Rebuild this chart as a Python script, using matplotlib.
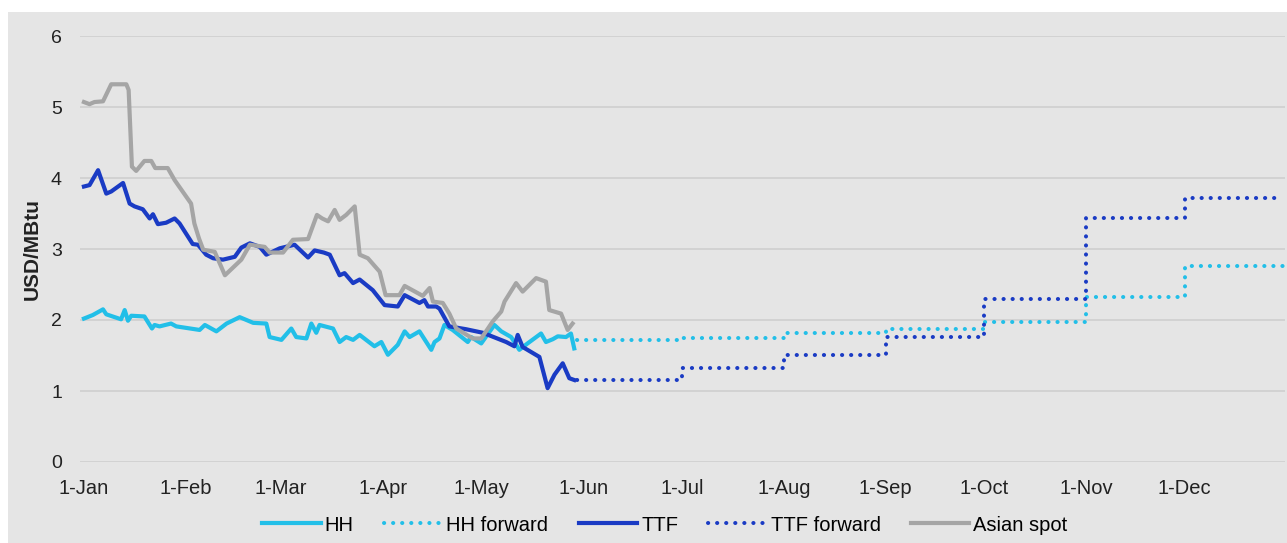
import numpy as np
import pandas as pd
import matplotlib
matplotlib.use('Agg')
import matplotlib.pyplot as plt
from matplotlib.patches import Rectangle

plt.rcParams['font.family'] = ['Liberation Sans', 'DejaVu Sans']

# Данные: день года (0 = 1 января 2020) и цена, USD/MBtu
hh_day = [0, 2.7, 5.8, 6.8, 11.3, 12.4, 13.4, 14.4, 18.4, 20.7, 21.5, 23, 26.5, 28.1,
          35.2, 36.8, 40.3, 43.4, 47.4, 51.5, 55.5, 56.5, 60.1, 63.1, 64.6, 67.7,
          69.2, 70.7, 71.7, 75.8, 77.8, 79.8, 81.9, 83.9, 88.4, 90.5, 92.5, 95.5,
          97.6, 99.1, 102.1, 105.7, 106.7, 108.2, 109.7, 112.2, 116.8, 117.8, 120.9,
          124.9, 127, 130, 132.5, 135, 139.1, 140.6, 142.7, 144.2, 146.7, 148.2, 149.2]
hh_val = [2.02, 2.07, 2.15, 2.08, 2.01, 2.14, 1.99, 2.06, 2.05, 1.88, 1.93, 1.91, 1.95, 1.91,
          1.86, 1.93, 1.84, 1.95, 2.04, 1.96, 1.95, 1.76, 1.72, 1.88, 1.76, 1.74,
          1.95, 1.82, 1.93, 1.88, 1.69, 1.76, 1.72, 1.79, 1.63, 1.69, 1.51, 1.65,
          1.84, 1.76, 1.84, 1.58, 1.69, 1.74, 1.93, 1.86, 1.69, 1.76, 1.67,
          1.93, 1.84, 1.76, 1.58, 1.67, 1.81, 1.69, 1.73, 1.77, 1.76, 1.81, 1.60]

ttf_day = [0, 1.7, 4.3, 6.8, 8.3, 11.9, 13.9, 15.4, 17.9, 20, 21, 22.5, 25, 27.6, 29.1,
           33.1, 34.7, 37.2, 39.3, 42.3, 45.9, 47.9, 50.5, 53.5, 55.5, 59.6, 64.1,
           68.2, 70.2, 73, 74.8, 77.8, 79.3, 81.9, 83.9, 87.9, 91.5, 95.5, 97.6,
           102.1, 103.6, 104.7, 107.2, 108.2, 111.2, 116.3, 121.4, 128.5, 131, 132,
           133.5, 138.6, 141.1, 143.2, 145.7, 147.7, 149.2]
ttf_val = [3.88, 3.90, 4.11, 3.78, 3.81, 3.93, 3.64, 3.60, 3.56, 3.43, 3.49, 3.35, 3.37, 3.43, 3.36,
           3.07, 3.06, 2.92, 2.87, 2.85, 2.89, 3.02, 3.08, 3.03, 2.92, 3.01, 3.06,
           2.88, 2.98, 2.95, 2.92, 2.63, 2.66, 2.52, 2.57, 2.42, 2.21, 2.19, 2.35,
           2.24, 2.28, 2.19, 2.19, 2.16, 1.91, 1.87, 1.82, 1.69, 1.63, 1.79,
           1.62, 1.48, 1.04, 1.23, 1.39, 1.18, 1.155]

asia_day = [0, 1.7, 3.2, 5.8, 8.3, 12.9, 13.6, 14.6, 15.9, 18.4, 20.5, 21.7, 25.5, 27.6,
            32.6, 33.6, 35.0, 36.3, 39.8, 42.9, 47.9, 50.5, 55, 56.5, 60.6, 63.6, 68.2,
            70.9, 72.5, 74.3, 76.3, 77.8, 79.8, 82.4, 83.9, 86.4, 90, 91.8, 96, 97.6,
            103.1, 105.2, 106.2, 109.2, 111.2, 113.3, 118.3, 120.9, 124.4, 127, 128,
            131.5, 133.5, 137.6, 140.6, 141.6, 145.2, 147.2, 148.7]
asia_val = [5.07, 5.04, 5.07, 5.08, 5.32, 5.32, 5.24, 4.16, 4.10, 4.24, 4.24, 4.14, 4.14, 3.97,
            3.64, 3.36, 3.15, 2.99, 2.96, 2.63, 2.85, 3.06, 3.03, 2.95, 2.95, 3.13, 3.14,
            3.48, 3.43, 3.39, 3.55, 3.41, 3.48, 3.60, 2.92, 2.87, 2.68, 2.35, 2.35, 2.48,
            2.34, 2.45, 2.26, 2.24, 2.09, 1.88, 1.74, 1.74, 1.98, 2.12, 2.26,
            2.52, 2.40, 2.59, 2.54, 2.14, 2.09, 1.86, 1.95]

# форвардные цены по месяцам (июнь - декабрь)
fwd_start = ['2020-05-30', '2020-07-01', '2020-08-01', '2020-09-01', '2020-10-01',
             '2020-11-01', '2020-12-01', '2020-12-31']
hh_fwd = [1.72, 1.74, 1.82, 1.88, 1.97, 2.32, 2.76, 2.76]
ttf_fwd = [1.155, 1.32, 1.51, 1.76, 2.30, 3.43, 3.72, 3.72]

month_ticks = pd.date_range('2020-01-01', '2020-12-01', freq='MS')
month_labels = [d.strftime('1-%b') for d in month_ticks]

start = pd.Timestamp('2020-01-01')
def to_dates(days):
    return start + pd.to_timedelta(np.array(days), unit='D')

c_hh = '#22bfe8'
c_ttf = '#1a3bc4'
c_asia = '#a5a5a5'
bg = '#e5e5e5'
txt = '#222222'

fig = plt.figure(figsize=(12.87, 5.43), dpi=100, facecolor='white')
fig.patches.append(Rectangle((8 / 1287, 0), 1, 531 / 543, transform=fig.transFigure,
                             facecolor=bg, edgecolor='none', zorder=-10))
ax = fig.add_axes([80 / 1287, 81 / 543, 1205 / 1287, 426 / 543])
ax.set_facecolor(bg)

dot = dict(linestyle=(0, (0.05, 2.2)), dash_capstyle='round', lw=2.9)
ax.plot(to_dates(hh_day), hh_val, color=c_hh, lw=3, label='HH', solid_joinstyle='round')
ax.step(pd.to_datetime(fwd_start), hh_fwd, where='post', color=c_hh, label='HH forward', **dot)
ax.plot(to_dates(ttf_day), ttf_val, color=c_ttf, lw=3, label='TTF', solid_joinstyle='round')
ax.step(pd.to_datetime(fwd_start), ttf_fwd, where='post', color=c_ttf, label='TTF forward', **dot)
ax.plot(to_dates(asia_day), asia_val, color=c_asia, lw=3, label='Asian spot', solid_joinstyle='round')

ax.set_ylim(0, 6)
ax.set_xlim(start - pd.Timedelta(days=1.2), pd.Timestamp('2020-12-31 12:00'))
ax.set_yticks(range(7))
ax.set_xticks(month_ticks)
ax.set_xticklabels(month_labels)
ax.grid(axis='y', color='#cfcfcf', lw=1.2)
ax.set_axisbelow(True)
for s in ax.spines.values():
    s.set_visible(False)
ax.tick_params(axis='y', length=0, pad=13, labelsize=14, labelcolor=txt)
ax.tick_params(axis='x', length=0, pad=12, labelsize=14.5, labelcolor=txt)
ax.set_ylabel('USD/MBtu', fontsize=15, fontweight='bold', color=txt)
ax.yaxis.set_label_coords(-0.032, 0.5)

ax.legend(loc='center', bbox_to_anchor=(0.4855, -0.148), ncol=5, frameon=False,
          fontsize=14.5, handlelength=2.9, handletextpad=0.2, columnspacing=1.5)

fig.savefig('out.png', dpi=100, facecolor=fig.get_facecolor())
